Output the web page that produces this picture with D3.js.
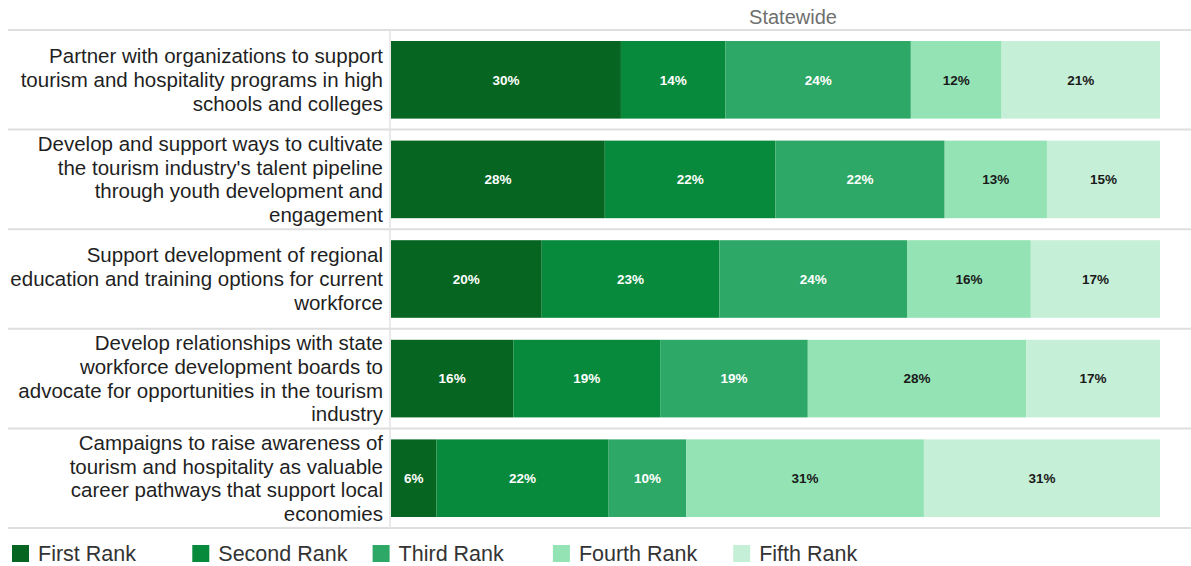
<!DOCTYPE html>
<html>
<head>
<meta charset="utf-8">
<script src="https://cdn.jsdelivr.net/npm/d3@7"></script>
<style>
  html, body { margin: 0; padding: 0; background: #fff; }
  svg { display: block; font-family: "Liberation Sans", Arial, sans-serif; }
</style>
</head>
<body>
<svg id="chart" width="1191" height="566"></svg>
<script>
// Strategies, each wrapped into its display lines
const categories = [
  ["Partner with organizations to support", "tourism and hospitality programs in high", "schools and colleges"],
  ["Develop and support ways to cultivate", "the tourism industry's talent pipeline", "through youth development and", "engagement"],
  ["Support development of regional", "education and training options for current", "workforce"],
  ["Develop relationships with state", "workforce development boards to", "advocate for opportunities in the tourism", "industry"],
  ["Campaigns to raise awareness of", "tourism and hospitality as valuable", "career pathways that support local", "economies"]
];

const seriesNames = ["First Rank", "Second Rank", "Third Rank", "Fourth Rank", "Fifth Rank"];

// Share of respondents (%) per rank, one array per rank, in category order
const firstRank  = [29.9, 27.8, 19.6, 15.9, 5.9];
const secondRank = [13.6, 22.2, 23.1, 19.1, 22.4];
const thirdRank  = [24.1, 22.0, 24.4, 19.2, 10.1];
const fourthRank = [11.8, 13.3, 16.1, 28.4, 30.9];
const fifthRank  = [20.6, 14.7, 16.8, 17.4, 30.7];

const panelTitle = "Statewide";

const colors = ["#066621", "#078a3b", "#2ea866", "#94e3b5", "#c6efd7"];
const labelColors = ["#ffffff", "#ffffff", "#ffffff", "#1a1a1a", "#1a1a1a"];

const seriesValues = [firstRank, secondRank, thirdRank, fourthRank, fifthRank];
const rows = categories.map((lines, i) => {
  const row = { key: i, lines };
  seriesNames.forEach((s, j) => { row[s] = seriesValues[j][i]; });
  return row;
});

const svg = d3.select("#chart");

const plotLeft = 391, plotRight = 1160, plotTop = 30, plotBottom = 528;

const y = d3.scaleBand()
  .domain(rows.map(d => d.key))
  .range([plotTop, plotBottom])
  .paddingInner(0).paddingOuter(0);

const x = d3.scaleLinear().domain([0, 100]).range([plotLeft, plotRight]);

const color = d3.scaleOrdinal().domain(seriesNames).range(colors);
const textColor = d3.scaleOrdinal().domain(seriesNames).range(labelColors);

const stacked = d3.stack().keys(seriesNames)(rows);

// Row separators
const grid = svg.append("g");
const boundaries = rows.map(d => y(d.key)).concat([plotBottom]);
grid.selectAll("line.sep")
  .data(boundaries)
  .join("line")
  .attr("class", "sep")
  .attr("x1", 8).attr("x2", 1191)
  .attr("y1", d => d).attr("y2", d => d)
  .attr("stroke", "#dedede")
  .attr("stroke-width", 2);

grid.append("line")
  .attr("x1", plotLeft - 1).attr("x2", plotLeft - 1)
  .attr("y1", plotTop).attr("y2", plotBottom)
  .attr("stroke", "#e2e2e2")
  .attr("stroke-width", 1.5);

// Panel title
svg.append("text")
  .attr("x", 793)
  .attr("y", 24)
  .attr("text-anchor", "middle")
  .attr("fill", "#6f6f6f")
  .attr("font-size", 20)
  .text(panelTitle);

const inset = 11;

// Stacked bars
const layers = svg.append("g").selectAll("g.layer")
  .data(stacked)
  .join("g")
  .attr("class", "layer")
  .attr("fill", d => color(d.key));

layers.selectAll("rect")
  .data(d => d)
  .join("rect")
  .attr("x", d => x(d[0]))
  .attr("width", d => x(d[1]) - x(d[0]))
  .attr("y", d => y(d.data.key) + inset)
  .attr("height", y.bandwidth() - 2 * inset);

// Value labels
layers.each(function(layer) {
  d3.select(this).selectAll("text")
    .data(layer)
    .join("text")
    .attr("x", d => (x(d[0]) + x(d[1])) / 2)
    .attr("y", d => y(d.data.key) + y.bandwidth() / 2)
    .attr("dy", "0.35em")
    .attr("text-anchor", "middle")
    .attr("font-size", 13.5)
    .attr("font-weight", "bold")
    .attr("fill", textColor(layer.key))
    .text(d => d3.format(".0f")(d[1] - d[0]) + "%");
});

// Category labels
const lineH = 23.7;
const catLabels = svg.append("g").selectAll("text")
  .data(rows)
  .join("text")
  .attr("text-anchor", "end")
  .attr("font-size", 20.5)
  .attr("fill", "#1f1f1f");

catLabels.each(function(d) {
  const cy = y(d.key) + y.bandwidth() / 2;
  const n = d.lines.length;
  d3.select(this).selectAll("tspan")
    .data(d.lines)
    .join("tspan")
    .attr("x", 383)
    .attr("y", (_, i) => cy + (i - (n - 1) / 2) * lineH)
    .attr("dy", "0.35em")
    .text(t => t);
});

// Legend
const legend = svg.append("g").selectAll("g")
  .data(seriesNames)
  .join("g")
  .attr("transform", (d, i) => `translate(${12 + i * 180.3},545)`);

legend.append("rect")
  .attr("width", 17).attr("height", 17)
  .attr("fill", d => color(d));

legend.append("text")
  .attr("x", 26).attr("y", 8.5)
  .attr("dy", "0.35em")
  .attr("font-size", 21.5)
  .attr("fill", "#333")
  .text(d => d);
</script>
</body>
</html>
